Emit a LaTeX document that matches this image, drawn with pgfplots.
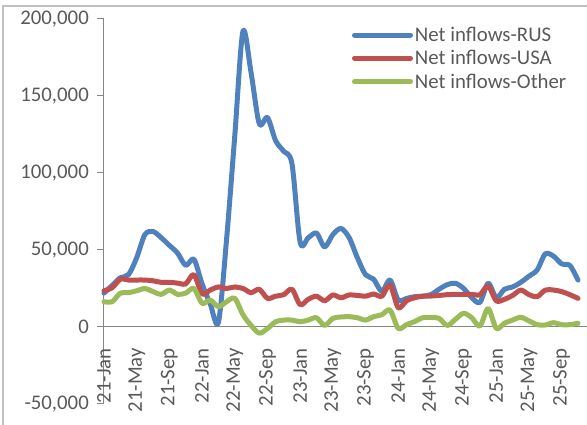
\documentclass[border=0pt]{standalone}
\usepackage{fontspec}
\setmainfont{Carlito}
\usepackage{pgfplots}
\usepackage{pgfplotstable}
\pgfplotsset{compat=1.18}

\definecolor{rus}{HTML}{4F81BD}
\definecolor{usa}{HTML}{C0504D}
\definecolor{oth}{HTML}{9BBB59}
\definecolor{txt}{HTML}{595959}
\definecolor{axl}{HTML}{868686}
\definecolor{frm}{HTML}{C0C0C0}

% month index 0 = 21-Jan
\pgfplotstableread{
i  rus     usa    oth
0  22000   23600  16400
1  27000   25500  16400
2  32000   31000  22000
3  34000   30500  22300
4  45000   30500  23500
5  60000   30500  25000
6  62000   30000  23000
7  58000   29000  21200
8  53000   29000  24000
9  48000   28500  21200
10 40000   28000  22000
11 44000   34000  25000
12 28000   21500  15400
13 15000   24000  17500
14 3000    26000  13200
15 57000   25000  16400
16 124000  26000  18600
17 192000  25000  8000
18 165000  22300  1000
19 132000  24500  -4000
20 136000  18600  -1000
21 121000  20000  3400
22 114000  21000  4500
23 106000  24500  4500
24 55000   14500  3400
25 58000   18000  4500
26 61000   20000  6000
27 52000   17000  1000
28 60000   20800  5600
29 64000   19000  6500
30 58000   20800  6700
31 45000   20500  6000
32 34000   20000  4500
33 31000   21400  6700
34 23000   20000  8000
35 30500   27300  11000
36 17500   12500  -900
37 18500   17000  1500
38 19700   19000  3500
39 20000   20000  6000
40 21000   20100  6300
41 24500   20500  5600
42 27500   21000  1000
43 28400   21200  5000
44 25000   21200  8900
45 19000   21200  6000
46 16000   21000  600
47 28400   26600  12000
48 19000   17000  -900
49 24500   18000  2500
50 26000   20500  4500
51 29000   24000  6300
52 33000   21000  4000
53 37000   19700  1500
54 47500   24000  1300
55 46000   24000  2800
56 41000   23000  1500
57 40000   21000  1500
58 30500   18600  2400
}\flows

\begin{document}
\begin{tikzpicture}[x=1pt,y=1pt]
\begin{axis}[
    width=483pt, height=385pt, scale only axis,
    xmin=0, xmax=59.1,
    ymin=-50000, ymax=200000,
    scaled y ticks=false, scaled x ticks=false,
    axis x line=middle, axis y line=left,
    hide obscured x ticks=false,
    axis line style={axl, line width=1pt, -},
    xtick={0,4,...,56},
    xticklabels={21-Jan,21-May,21-Sep,22-Jan,22-May,22-Sep,23-Jan,23-May,23-Sep,24-Jan,24-May,24-Sep,25-Jan,25-May,25-Sep},
    ytick={-50000,0,50000,100000,150000,200000},
    yticklabels={{-50,000},{0},{50,000},{100,000},{150,000},{200,000}},
    xtick style={draw=none},
    ytick style={axl, line width=1pt},
    tick align=outside,
    major tick length=7pt,
    ticklabel style={font=\fontsize{20.8}{24}\selectfont, text=txt},
    x tick label style={rotate=90, anchor=east, inner sep=0pt},
    xticklabel shift=14pt,
    y tick label style={anchor=east, inner sep=0pt},
    yticklabel shift=8pt,
    legend style={draw=none, fill=none, at={(0.513,0.982)}, anchor=north west,
        font=\fontsize{20.8}{24}\selectfont, text=txt, inner sep=0pt,
        row sep=5.5pt, nodes={inner xsep=2pt, inner ysep=1pt}},
    legend cell align=left,
    legend image code/.code={\draw[#1] (0pt,0pt) -- (56pt,0pt);},
    every axis plot/.append style={line width=5pt, line cap=round, line join=round, smooth, no markers},
    clip=false,
]
\addplot[rus] table[x=i, y=rus] {\flows};
\addlegendentry{Net inflows-RUS}
\addplot[usa] table[x=i, y=usa] {\flows};
\addlegendentry{Net inflows-USA}
\addplot[oth] table[x=i, y=oth] {\flows};
\addlegendentry{Net inflows-Other}
\coordinate (O) at (rel axis cs:0,0);
\end{axis}
\pgfresetboundingbox
\begin{scope}[shift={(O)}]
\path[use as bounding box] (-104,-21) rectangle (483,404);
\draw[frm, line width=1.5pt] (-101,-30) -- (-101,398) -- (500,398);
\end{scope}
\end{tikzpicture}
\end{document}
